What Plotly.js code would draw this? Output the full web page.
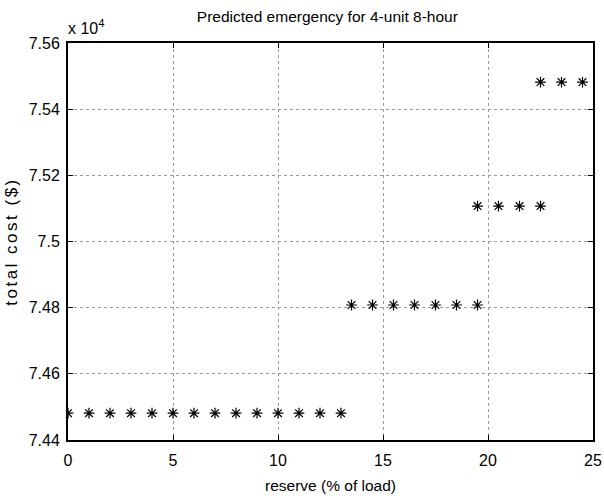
<!DOCTYPE html>
<html>
<head>
<meta charset="utf-8">
<script src="https://cdn.plot.ly/plotly-3.0.1.min.js"></script>
<style>
html,body{margin:0;padding:0;background:#fff;}
#chart{width:604px;height:504px;}
.ytitle{letter-spacing:2.5px;}
</style>
</head>
<body>
<div id="chart"></div>
<script>
// reserve (% of load)
const reserve = [0,1,2,3,4,5,6,7,8,9,10,11,12,13,
                 13.5,14.5,15.5,16.5,17.5,18.5,19.5,
                 19.5,20.5,21.5,22.5,
                 22.5,23.5,24.5];
// total cost ($)
const totalCost = [74481,74481,74481,74481,74481,74481,74481,74481,74481,74481,74481,74481,74481,74481,
                   74808,74808,74808,74808,74808,74808,74808,
                   75107,75107,75107,75107,
                   75482,75482,75482];
const xTicks = [0,5,10,15,20,25];
const yTicks = [74400,74600,74800,75000,75200,75400,75600];
const yTickText = ['7.44','7.46','7.48','7.5','7.52','7.54','7.56'];

const fam = 'Liberation Sans, Arial, sans-serif';

const trace = {
  x: reserve, y: totalCost, type: 'scatter', mode: 'markers',
  marker: {symbol: 'asterisk-open', size: 9, color: '#000', line: {color: '#000', width: 1.2}},
  hoverinfo: 'skip'
};

const axisCommon = {
  showline: true, linecolor: '#000', linewidth: 2, mirror: 'ticks',
  ticks: 'inside', ticklen: 5, tickwidth: 1, tickcolor: '#000',
  showgrid: true, gridcolor: '#9a9a9a', gridwidth: 1, griddash: 'dot',
  zeroline: false,
  tickfont: {family: fam, size: 16, color: '#000'}
};

const layout = {
  width: 604, height: 504,
  margin: {l: 68, r: 11, t: 43, b: 64},
  paper_bgcolor: '#fff', plot_bgcolor: '#fff',
  showlegend: false,
  title: {text: 'Predicted emergency for 4-unit 8-hour', x: 0.542, xanchor: 'center',
          y: 1 - 17/504, yref: 'container', yanchor: 'middle',
          font: {family: fam, size: 15.5, color: '#000'}},
  xaxis: Object.assign({}, axisCommon, {
    range: [0, 25], tickmode: 'array', tickvals: xTicks,
    ticklabelstandoff: 5,
    title: {text: 'reserve (% of load)', standoff: 12, font: {family: fam, size: 15.5, color: '#000'}}
  }),
  yaxis: Object.assign({}, axisCommon, {
    range: [74400, 75600], tickmode: 'array', tickvals: yTicks, ticktext: yTickText,
    ticklabelstandoff: 3,
    title: {text: 'total cost ($)', standoff: 7, font: {family: fam, size: 17, color: '#000'}}
  }),
  annotations: [{
    text: 'x 10<sup>4</sup>', xref: 'paper', yref: 'paper', x: 0, y: 1,
    xanchor: 'left', yanchor: 'bottom', yshift: 4, xshift: -2, showarrow: false,
    font: {family: fam, size: 16, color: '#000'}
  }]
};

Plotly.newPlot('chart', [trace], layout, {displayModeBar: false, staticPlot: true});
</script>
</body>
</html>
